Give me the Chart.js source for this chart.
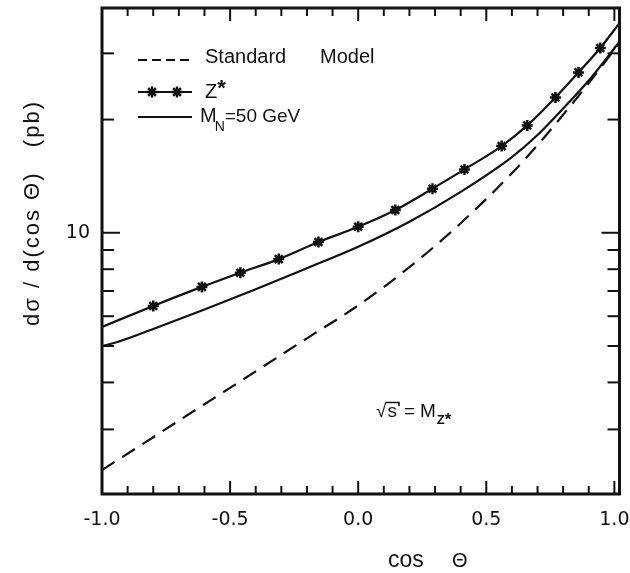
<!DOCTYPE html>
<html>
<head>
<meta charset="utf-8">
<script src="https://cdn.jsdelivr.net/npm/chart.js@4.4.1/dist/chart.umd.min.js"></script>
<style>
  html, body { margin: 0; padding: 0; background: #fff; }
  canvas { display: block; }
</style>
</head>
<body>
<canvas id="xsec" width="630" height="573"></canvas>
<script>
// d sigma / d cos(theta) in pb against cos(theta)
const smCos   = [-1.0, -0.8, -0.6, -0.4, -0.2, 0.0, 0.2, 0.4, 0.6, 0.7, 0.8, 0.9, 1.02];
const smXsec  = [2.34, 2.86, 3.50, 4.28, 5.24, 6.41, 8.1, 10.6, 14.4, 17.1, 20.6, 25.0, 32.0];

const zCos    = [-1.0, -0.8, -0.61, -0.46, -0.31, -0.155, 0.0, 0.145, 0.29, 0.415, 0.56, 0.66, 0.77, 0.86, 0.945, 1.02];
const zXsec   = [5.62, 6.39, 7.18, 7.83, 8.51, 9.45, 10.37, 11.49, 13.1, 14.74, 17.0, 19.3, 22.9, 26.7, 31.0, 36.1];

const mnCos   = [-1.0, -0.95, -0.8, -0.6, -0.4, -0.2, 0.0, 0.2, 0.4, 0.6, 0.7, 0.8, 0.9, 1.02];
const mnXsec  = [5.0, 5.1, 5.55, 6.25, 7.08, 8.05, 9.18, 10.7, 12.85, 15.9, 18.2, 21.4, 25.4, 32.2];

const xRange = [-1.0, 1.02];
const yRange = [2.02, 39.6];
const yTickValues = [2, 3, 4, 5, 6, 7, 8, 9, 10, 20, 30];
const yLabelled = [10];

const INK = '#111';
const FONT = '"Liberation Sans", Arial, sans-serif';
const TICK_FONT = '"DejaVu Sans", sans-serif';

const pts = (xs, ys) => xs.map((x, i) => ({ x: x, y: ys[i] }));
const isHalf = v => Math.abs(v * 2 - Math.round(v * 2)) < 1e-6;

function seg(ctx, x1, y1, x2, y2) {
  ctx.beginPath();
  ctx.moveTo(x1, y1);
  ctx.lineTo(x2, y2);
  ctx.stroke();
}

// writes text left to right, returns the x after it
function put(ctx, text, x, y, font) {
  ctx.font = font;
  ctx.fillText(text, x, y);
  return x + ctx.measureText(text).width;
}

// fixed plot box: no extra room reserved for edge labels
function noEdgePadding(s) {
  s.paddingTop = 0;
  s.paddingBottom = 0;
  s.paddingLeft = 0;
  s.paddingRight = 0;
}

// frame with inward ticks on all four sides, legend, notes and axis titles
const decorations = {
  id: 'decorations',
  afterDraw(chart) {
    const { ctx, chartArea: a, scales: { x, y } } = chart;
    ctx.save();
    ctx.strokeStyle = INK;
    ctx.fillStyle = INK;
    ctx.lineWidth = 2;
    ctx.setLineDash([]);

    x.ticks.forEach(t => {
      const px = x.getPixelForValue(t.value);
      const len = isHalf(t.value) ? 13 : 8;
      seg(ctx, px, a.bottom, px, a.bottom - len);
      seg(ctx, px, a.top, px, a.top + len);
    });
    y.ticks.forEach(t => {
      const py = y.getPixelForValue(t.value);
      const len = yLabelled.includes(t.value) ? 18 : 12;
      seg(ctx, a.left, py, a.left + len, py);
      seg(ctx, a.right, py, a.right - len, py);
    });

    ctx.lineWidth = 3;
    ctx.strokeRect(a.left, a.top, a.right - a.left, a.bottom - a.top);

    // legend
    const sets = chart.data.datasets;
    const lx1 = 138, lx2 = 192, tx = 205;
    const f20 = '20px ' + FONT;
    ctx.textBaseline = 'alphabetic';
    ctx.textAlign = 'left';

    ctx.lineWidth = 2;
    ctx.setLineDash([9, 5]);
    seg(ctx, lx1, 60, lx2, 60);
    ctx.setLineDash([]);
    put(ctx, 'Standard', tx, 63, f20);
    put(ctx, 'Model', 320, 63, f20);

    seg(ctx, lx1, 92, lx2, 92);
    const z = sets[1];
    ctx.lineWidth = z.pointBorderWidth;
    [152, 177].forEach(px => Chart.helpers.drawPoint(ctx, { pointStyle: z.pointStyle, radius: 5.5, rotation: 0, borderWidth: z.pointBorderWidth }, px, 92));
    let cx = put(ctx, 'Z', tx, 98, f20);
    put(ctx, '*', cx, 95, 'bold 22px ' + FONT);

    ctx.lineWidth = 2;
    seg(ctx, lx1, 117, lx2, 117);
    cx = put(ctx, 'M', 200, 122, f20);
    cx = put(ctx, 'N', cx - 2, 131, '14px ' + FONT);
    put(ctx, '=50 GeV', cx, 122, '19px ' + FONT);

    // sqrt(s) = M_Z* note
    const f19 = '19px ' + FONT;
    cx = put(ctx, '\u221A', 376, 417, f19);
    const sx = cx + 1;
    cx = put(ctx, 's', sx, 417, f19);
    ctx.lineWidth = 1.6;
    ctx.beginPath();
    ctx.moveTo(sx - 2, 402.5);
    ctx.lineTo(cx + 2, 402.5);
    ctx.lineTo(cx + 2, 406);
    ctx.stroke();
    cx = put(ctx, '=', cx + 7, 417, f19);
    cx = put(ctx, 'M', cx + 5, 417, f19);
    cx = put(ctx, 'Z', cx + 1, 424, 'bold 13px ' + FONT);
    put(ctx, '*', cx, 425, 'bold 17px ' + FONT);

    // axis titles
    put(ctx, 'cos', 388, 567, '23px ' + FONT);
    put(ctx, '\u0398', 452, 567, '20px ' + FONT);

    ctx.translate(33, 213);
    ctx.rotate(-Math.PI / 2);
    ctx.textAlign = 'center';
    ctx.textBaseline = 'middle';
    ctx.font = '22px ' + FONT;
    ctx.letterSpacing = '2px';
    ctx.fillText('d\u03C3 / d(cos \u0398)   (pb)', 0, 0);
    ctx.restore();
  }
};

const lineBase = {
  borderColor: INK,
  backgroundColor: INK,
  borderWidth: 2.2,
  pointRadius: 0,
  fill: false,
  cubicInterpolationMode: 'monotone'
};

new Chart(document.getElementById('xsec'), {
  type: 'line',
  data: {
    datasets: [
      Object.assign({}, lineBase, { label: 'Standard Model', data: pts(smCos, smXsec), borderDash: [15, 9] }),
      Object.assign({}, lineBase, {
        label: 'Z*',
        data: pts(zCos, zXsec),
        pointStyle: 'star',
        pointBorderWidth: 2.5,
        pointBorderColor: INK,
        pointBackgroundColor: INK,
        pointRadius: c => (c.dataIndex === 0 || c.dataIndex === zCos.length - 1) ? 0 : 5.5
      }),
      Object.assign({}, lineBase, { label: 'M_N=50 GeV', data: pts(mnCos, mnXsec) })
    ]
  },
  options: {
    responsive: false,
    animation: false,
    devicePixelRatio: 1,
    layout: { autoPadding: false, padding: { top: 8, right: 10.5, left: 0, bottom: 0 } },
    plugins: { legend: { display: false }, tooltip: { enabled: false } },
    scales: {
      x: {
        type: 'linear',
        min: xRange[0],
        max: xRange[1],
        grid: { display: false, drawTicks: false },
        border: { display: false },
        ticks: {
          stepSize: 0.1,
          includeBounds: false,
          autoSkip: false,
          maxRotation: 0,
          padding: 15,
          color: INK,
          font: { family: TICK_FONT, size: 19 },
          callback: v => isHalf(v) ? (Math.abs(v) < 1e-9 ? '0.0' : v.toFixed(1)) : ''
        },
        afterFit: s => { s.height = 79; noEdgePadding(s); }
      },
      y: {
        type: 'logarithmic',
        min: yRange[0],
        max: yRange[1],
        grid: { display: false, drawTicks: false },
        border: { display: false },
        afterBuildTicks: s => {
          s.ticks = yTickValues.filter(v => v >= s.min && v <= s.max).map(v => ({ value: v }));
        },
        ticks: {
          autoSkip: false,
          padding: 12,
          color: INK,
          font: { family: TICK_FONT, size: 19 },
          callback: v => yLabelled.includes(v) ? String(v) : ''
        },
        afterFit: s => { s.width = 102; noEdgePadding(s); }
      }
    }
  },
  plugins: [decorations]
});
</script>
</body>
</html>
